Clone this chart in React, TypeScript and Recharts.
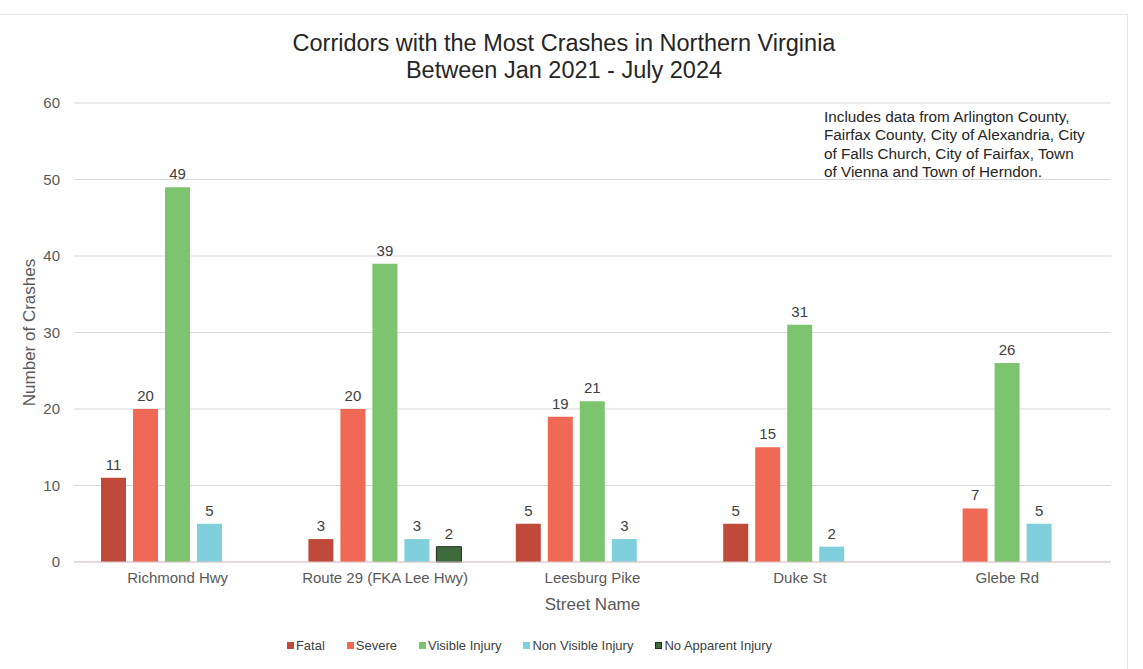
import React from "react";
import { BarChart, Bar, XAxis, YAxis, CartesianGrid, Legend, LabelList } from "recharts";

const categories = ["Richmond Hwy", "Route 29 (FKA Lee Hwy)", "Leesburg Pike", "Duke St", "Glebe Rd"];
const fatal = [11, 3, 5, 5, null];
const severe = [20, 20, 19, 15, 7];
const visibleInjury = [49, 39, 21, 31, 26];
const nonVisibleInjury = [5, 3, 3, 2, 5];
const noApparentInjury = [null, 2, null, null, null];
const yTicks = [0, 10, 20, 30, 40, 50, 60];

const seriesNames = ["Fatal", "Severe", "Visible Injury", "Non Visible Injury", "No Apparent Injury"];
const seriesColors = ["#BF4A39", "#EF6954", "#7CC46D", "#80CFDC", "#3F6B3C"];

const data = categories.map((name, i) => ({
  name,
  fatal: fatal[i],
  severe: severe[i],
  visible: visibleInjury[i],
  nonVisible: nonVisibleInjury[i],
  noApparent: noApparentInjury[i],
}));

const FONT = "'Liberation Sans', Arial, sans-serif";
const labelStyle = { fill: "#404040", fontSize: 15, fontFamily: FONT };

function LegendContent() {
  return (
    <div style={{ display: "flex", justifyContent: "center", alignItems: "center", fontFamily: FONT, fontSize: 13, color: "#404040", paddingRight: 84 }}>
      {seriesNames.map((n, i) => (
        <div key={n} style={{ display: "flex", alignItems: "center", marginRight: i < seriesNames.length - 1 ? 22 : 0 }}>
          <span
            style={{
              display: "inline-block",
              width: 7,
              height: 7,
              background: seriesColors[i],
              border: i === 4 ? "1px solid #1e2a1e" : "none",
              boxSizing: "border-box",
              marginRight: 2,
            }}
          />
          <span>{n}</span>
        </div>
      ))}
    </div>
  );
}

export default function App() {
  return (
    <div style={{ position: "absolute", left: 0, top: 0, width: 1143, height: 669, background: "#fff", fontFamily: FONT }}>
      <div style={{ position: "absolute", left: -2, top: 14, width: 1130, height: 670, border: "1px solid #e4e4e4", boxSizing: "border-box" }} />
      <BarChart
        width={1143}
        height={669}
        data={data}
        margin={{ top: 103, right: 32, left: 0, bottom: 37 }}
        barSize={25}
        barGap={7}
        style={{ fontFamily: FONT }}
      >
        <CartesianGrid vertical={false} stroke="#d9d9d9" />
        <XAxis
          dataKey="name"
          tickLine={false}
          axisLine={{ stroke: "#e0c8c8" }}
          tick={{ fill: "#595959", fontSize: 15, fontFamily: FONT, dy: 2 }}
          height={48}
          label={{ value: "Street Name", position: "insideBottom", offset: 0, fill: "#595959", fontSize: 17, fontFamily: FONT }}
        />
        <YAxis
          domain={[0, 60]}
          ticks={yTicks}
          width={74}
          tickLine={false}
          axisLine={false}
          tick={{ fill: "#595959", fontSize: 15, fontFamily: FONT, dx: -6 }}
          label={{ value: "Number of Crashes", angle: -90, position: "insideLeft", offset: 29, fill: "#595959", fontSize: 17, fontFamily: FONT, style: { textAnchor: "middle" } }}
        />
        <Legend height={22} content={LegendContent} wrapperStyle={{ top: 638, left: 0, width: 1143 }} />
        <Bar dataKey="fatal" name="Fatal" fill={seriesColors[0]} isAnimationActive={false}>
          <LabelList dataKey="fatal" position="top" offset={8} style={labelStyle} />
        </Bar>
        <Bar dataKey="severe" name="Severe" fill={seriesColors[1]} isAnimationActive={false}>
          <LabelList dataKey="severe" position="top" offset={8} style={labelStyle} />
        </Bar>
        <Bar dataKey="visible" name="Visible Injury" fill={seriesColors[2]} isAnimationActive={false}>
          <LabelList dataKey="visible" position="top" offset={8} style={labelStyle} />
        </Bar>
        <Bar dataKey="nonVisible" name="Non Visible Injury" fill={seriesColors[3]} isAnimationActive={false}>
          <LabelList dataKey="nonVisible" position="top" offset={8} style={labelStyle} />
        </Bar>
        <Bar dataKey="noApparent" name="No Apparent Injury" fill={seriesColors[4]} stroke="#1e2a1e" strokeWidth={1} isAnimationActive={false}>
          <LabelList dataKey="noApparent" position="top" offset={8} style={labelStyle} />
        </Bar>
      </BarChart>
      <div style={{ position: "absolute", left: 0, width: 1128, top: 30, textAlign: "center", fontSize: 23.5, lineHeight: "27px", color: "#262626" }}>
        Corridors with the Most Crashes in Northern Virginia
        <br />
        Between Jan 2021 - July 2024
      </div>
      <div style={{ position: "absolute", left: 824, top: 108, width: 300, fontSize: 15.3, lineHeight: "18.3px", color: "#262626" }}>
        Includes data from Arlington County,
        <br />
        Fairfax County, City of Alexandria, City
        <br />
        of Falls Church, City of Fairfax, Town
        <br />
        of Vienna and Town of Herndon.
      </div>
    </div>
  );
}
